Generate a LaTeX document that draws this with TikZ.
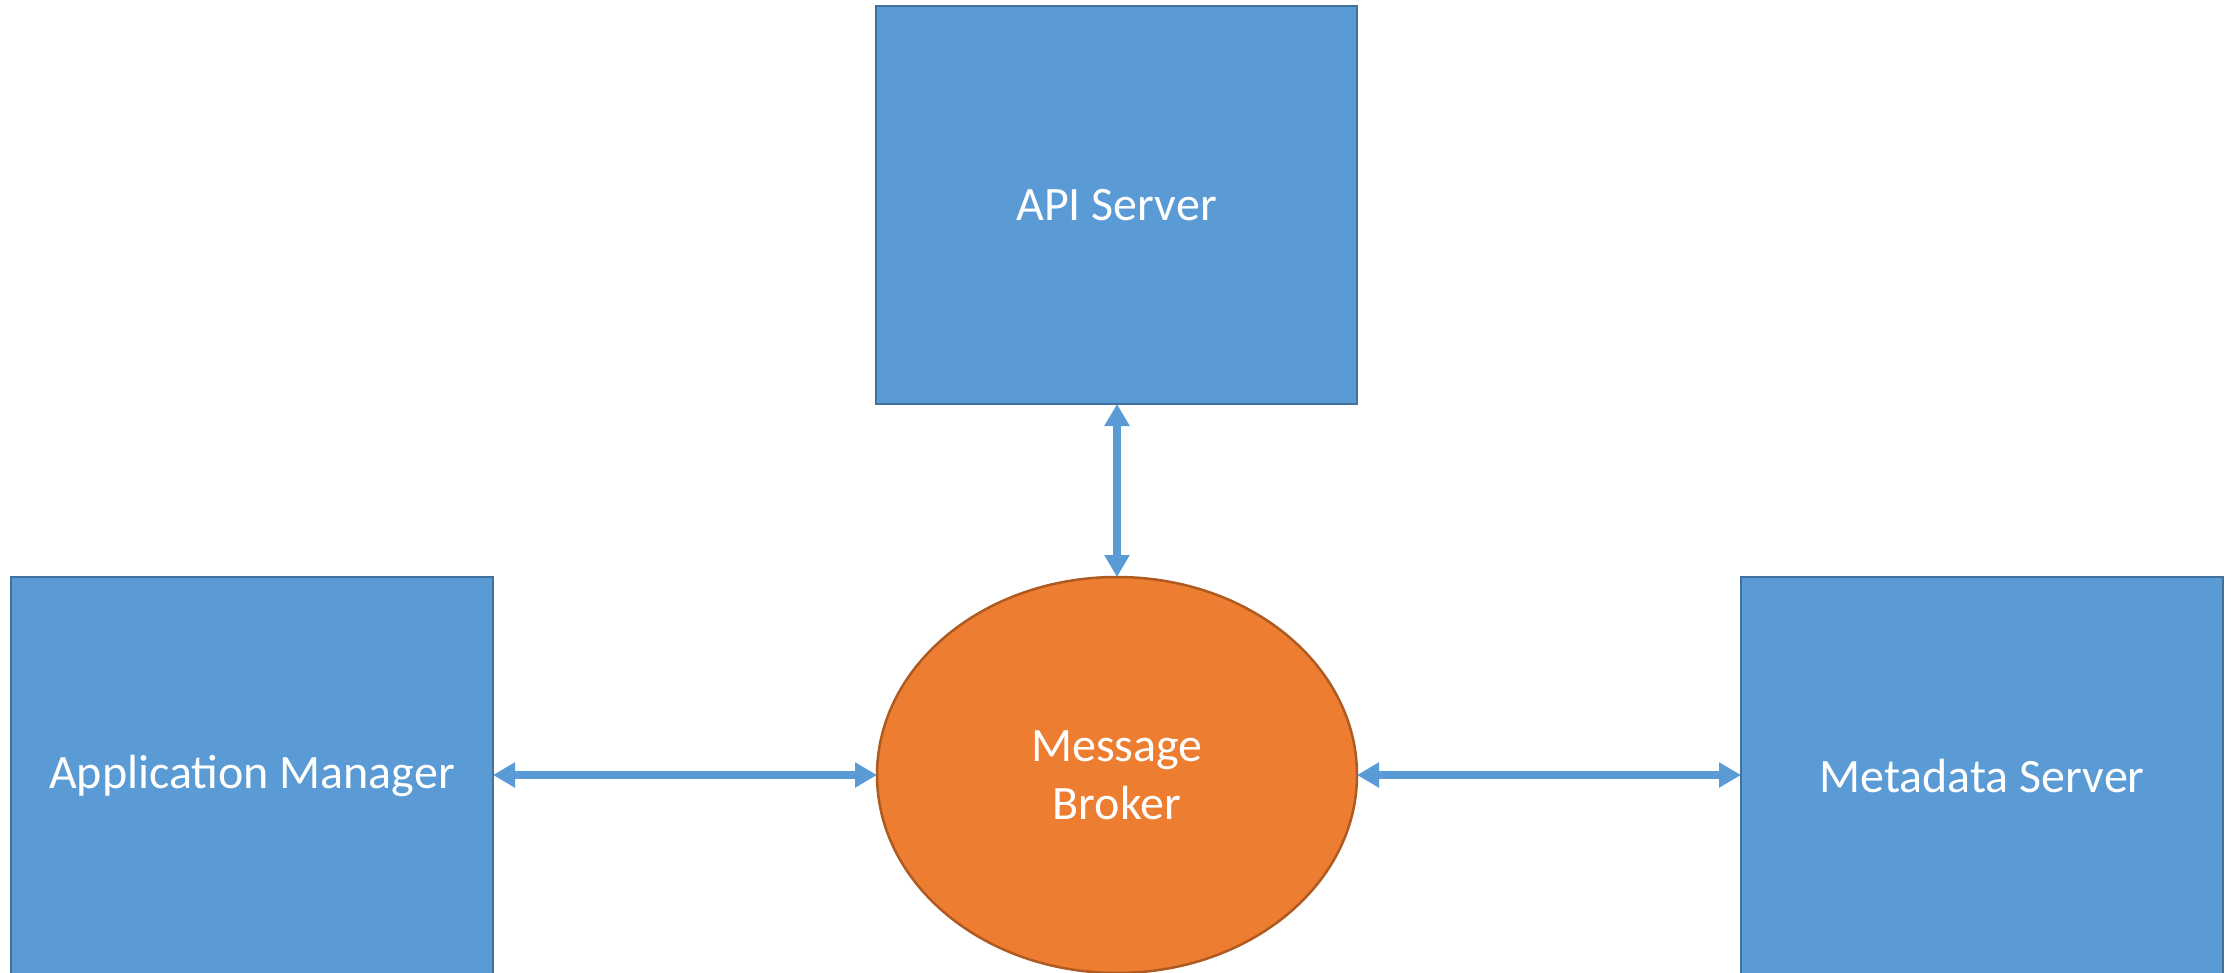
\documentclass[tikz,border=0pt]{standalone}
\usepackage{fontspec}
\setmainfont{Carlito}
\usetikzlibrary{arrows.meta,shapes.geometric}
\definecolor{boxfill}{HTML}{5B9BD5}
\definecolor{boxline}{HTML}{41719C}
\definecolor{brokerfill}{HTML}{ED7D31}
\definecolor{brokerline}{HTML}{AE5A21}
\definecolor{linkcol}{HTML}{5B9BD5}
\tikzset{
  labelfont/.style={text=white, font=\fontsize{48}{58}\selectfont, align=center},
  component/.style={draw=boxline, fill=boxfill, line width=2.5pt, inner sep=0pt, outer sep=0pt,
    labelfont},
  broker/.style={ellipse, draw=brokerline, fill=brokerfill, line width=2.5pt, inner sep=0pt, outer sep=0pt,
    minimum width=480pt, minimum height=396pt, labelfont},
  link/.style={draw=linkcol, line width=8pt, {Triangle[length=22pt,width=24pt]}-{Triangle[length=22pt,width=24pt]}}
}
\begin{document}
\begin{tikzpicture}[x=1pt,y=-1pt]
\useasboundingbox (0,0) rectangle (2233,973);
\clip (0,0) rectangle (2233,973);
% components
\node[component, minimum width=481pt, minimum height=398pt] (api) at (1116.5,205) {API Server};
\node[component, minimum width=482pt, minimum height=398pt] (app) at (252,776) {};
\node[component, minimum width=482pt, minimum height=398pt] (meta) at (1982,776) {};
\node[labelfont] (applabel) at (252,776) {Application Manager};
\node[labelfont] (metalabel) at (1982,776) {Metadata Server};
% broker
\node[broker] (mb) at (1117,775) {Message\\Broker};
% links
\draw[link] (api.south -| mb.north) -- (mb.north);
\draw[link] (app.east |- mb.west) -- (mb.west);
\draw[link] (mb.east) -- (meta.west |- mb.east);
\end{tikzpicture}
\end{document}
